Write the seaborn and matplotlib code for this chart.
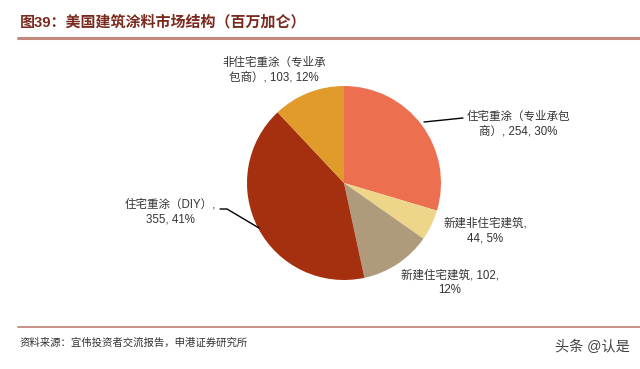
import matplotlib
matplotlib.use("Agg")
import matplotlib.pyplot as plt
import seaborn as sns

sns.set_theme(style="white")
plt.rcParams['font.family'] = ['Liberation Sans', 'Noto Sans CJK SC', 'DejaVu Sans']

# data
categories = ["住宅重涂（专业承包商）", "新建非住宅建筑", "新建住宅建筑", "住宅重涂（DIY）", "非住宅重涂（专业承包商）"]
values = [254, 44, 102, 355, 103]
percents = ["30%", "5%", "12%", "41%", "12%"]
label_texts = [
    "住宅重涂（专业承包\n商）, 254, 30%",
    "新建非住宅建筑,\n44, 5%",
    "新建住宅建筑, 102,\n12%",
    "住宅重涂（DIY）,\n355, 41%",
    "非住宅重涂（专业承\n包商）, 103, 12%",
]
colors = ["#EC7050", "#EDD58A", "#B09A7C", "#A5300F", "#E09B2A"]

title = "图39：美国建筑涂料市场结构（百万加仑）"
source = "资料来源：宜伟投资者交流报告，申港证券研究所"
watermark = "头条 @认是"

W, H = 640, 369
fig = plt.figure(figsize=(W / 100, H / 100), dpi=100)
fig.patch.set_facecolor("white")

cx, cy, r = 344, 183, 97
ax = fig.add_axes([(cx - r) / W, (H - cy - r) / H, 2 * r / W, 2 * r / H])
ax.pie(values, colors=colors, startangle=90, counterclock=False,
       wedgeprops=dict(linewidth=0))
ax.set_xlim(-1, 1)
ax.set_ylim(-1, 1)
ax.set_aspect("auto")
ax.axis("off")

def fx(x):
    return x / W

def fy(y):
    return 1 - y / H

# label positions (pixel centers)
label_pos = [(518, 124), (485, 231), (450, 283), (170, 212), (274, 70)]
for txt, (x, y) in zip(label_texts, label_pos):
    fig.text(fx(x), fy(y), txt, ha="center", va="center", fontsize=8.3,
             color="#333333", linespacing=1.25)

# leader lines
fig.add_artist(plt.Line2D([fx(424), fx(463)], [fy(122), fy(118)], color="black", lw=1.0))
fig.add_artist(plt.Line2D([fx(220), fx(227), fx(259)], [fy(209), fy(209), fy(228)], color="black", lw=1.0))

# title
fig.text(fx(20), fy(22), title, ha="left", va="center", fontsize=10.8,
         fontweight="bold", color="#7A2A1E")
fig.add_artist(plt.Line2D([fx(18), 1.0], [fy(38), fy(38)], color="#C4897E", lw=2.2))
fig.add_artist(plt.Line2D([fx(18), 1.0], [fy(327), fy(327)], color="#C4897E", lw=1.3))

fig.text(fx(20), fy(343), source, ha="left", va="center", fontsize=7.5,
         style="italic", color="#333333")
fig.text(fx(555), fy(347), watermark, ha="left", va="center", fontsize=10.2,
         color="#444444")

fig.savefig("out.png", dpi=100, facecolor="white")
